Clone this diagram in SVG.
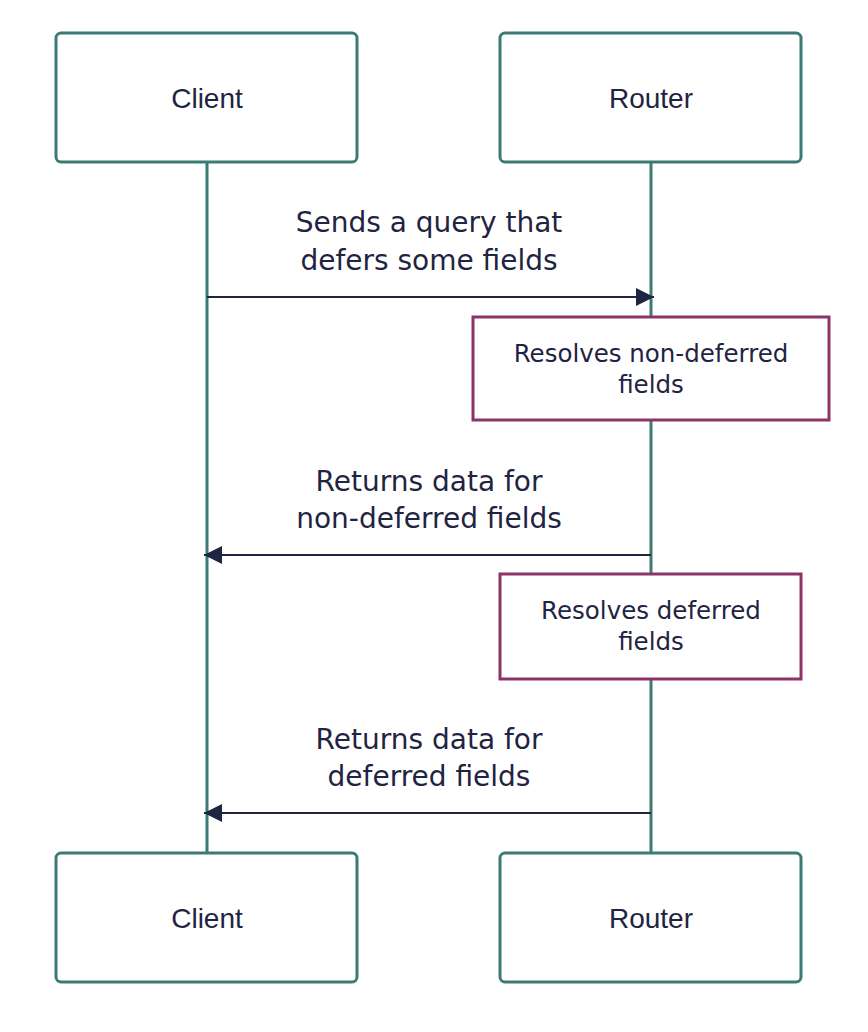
<svg xmlns="http://www.w3.org/2000/svg" width="868" height="1032" viewBox="0 0 868 1032">
<style>
.actor{fill:#fff;stroke:#3b7b73;stroke-width:3}
.life{stroke:#3b7b73;stroke-width:3}
.note{fill:#fff;stroke:#8c3369;stroke-width:3}
.msg{stroke:#1f2442;stroke-width:2;fill:none}
.at{font-family:"Liberation Sans",Arial,sans-serif;font-size:28px;fill:#1f2442;text-anchor:middle;dominant-baseline:central}
.mt{font-family:"DejaVu Sans",sans-serif;font-size:28px;fill:#1f2442;text-anchor:middle;dominant-baseline:central}
.nt{font-family:"DejaVu Sans",sans-serif;font-size:24.5px;fill:#1f2442;text-anchor:middle;dominant-baseline:central}
</style>
<defs>
<marker id="ah2" viewBox="0 0 18 18" refX="18" refY="9" markerWidth="18" markerHeight="18" markerUnits="userSpaceOnUse" orient="auto">
<path d="M0,0 L18,9 L0,18 z" fill="#1f2442"/>
</marker>
</defs>
<g id="lifelines">
<line class="life" x1="207" y1="162" x2="207" y2="853"/>
<line class="life" x1="651" y1="162" x2="651" y2="853"/>
</g>
<g id="client-top"><rect class="actor" x="56" y="33" width="301" height="129" rx="5"/><text class="at" x="207" y="98">Client</text></g>
<g id="router-top"><rect class="actor" x="500" y="33" width="301" height="129" rx="5"/><text class="at" x="651" y="98">Router</text></g>
<g id="client-bottom"><rect class="actor" x="56" y="853" width="301" height="129" rx="5"/><text class="at" x="207" y="918">Client</text></g>
<g id="router-bottom"><rect class="actor" x="500" y="853" width="301" height="129" rx="5"/><text class="at" x="651" y="918">Router</text></g>
<g id="note1"><rect class="note" x="473" y="317" width="356" height="103"/><text class="nt" x="651" y="353">Resolves non-deferred</text><text class="nt" x="651" y="384">fields</text></g>
<g id="note2"><rect class="note" x="500" y="574" width="301" height="105"/><text class="nt" x="651" y="610">Resolves deferred</text><text class="nt" x="651" y="641">fields</text></g>
<g id="connectors">
<line class="msg" x1="207" y1="297" x2="654" y2="297" marker-end="url(#ah2)"/>
<line class="msg" x1="651" y1="555" x2="204" y2="555" marker-end="url(#ah2)"/>
<line class="msg" x1="651" y1="813" x2="204" y2="813" marker-end="url(#ah2)"/>
</g>
<g id="labels">
<text class="mt" x="429" y="222">Sends a query that</text>
<text class="mt" x="429" y="260">defers some fields</text>
<text class="mt" x="429" y="481">Returns data for</text>
<text class="mt" x="429" y="518">non-deferred fields</text>
<text class="mt" x="429" y="739">Returns data for</text>
<text class="mt" x="429" y="776">deferred fields</text>
</g>
</svg>
